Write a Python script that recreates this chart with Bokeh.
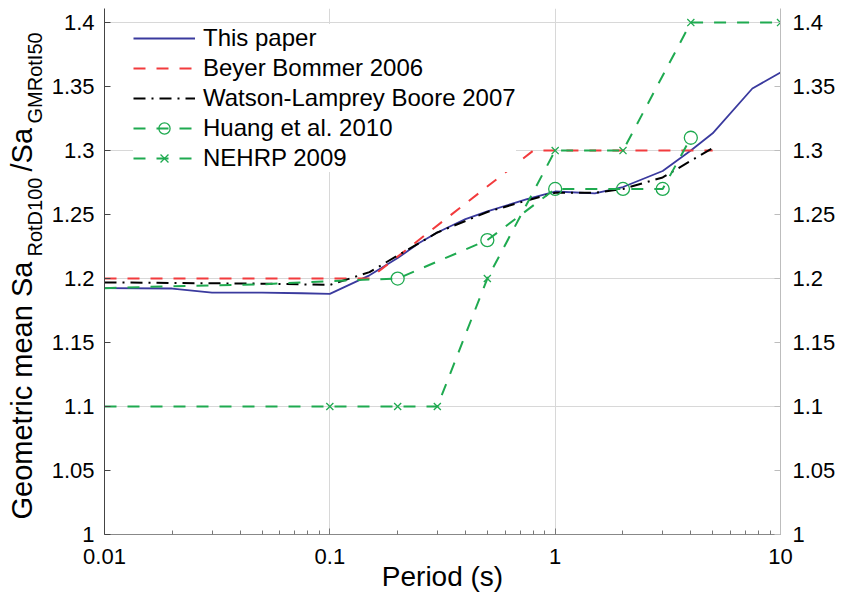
import math
from bokeh.plotting import figure
from bokeh.layouts import row
from bokeh.models import (Range1d, LinearAxis, FixedTicker, CustomJSTickFormatter,
                          Legend, LegendItem)
from bokeh.core.properties import value
from bokeh.embed import file_html
from bokeh.resources import INLINE

# ---------------- data ----------------
this_period = [0.01, 0.02, 0.03, 0.05, 0.075, 0.1, 0.15, 0.2, 0.25, 0.3, 0.4, 0.5,
               0.75, 1.0, 1.5, 2.0, 3.0, 4.0, 5.0, 7.5, 10.0]
this_ratio = [1.1925, 1.1922, 1.189, 1.189, 1.1885, 1.188, 1.2025, 1.216, 1.228, 1.236,
              1.2465, 1.2525, 1.262, 1.268, 1.2665, 1.2715, 1.284, 1.300, 1.3135,
              1.3485, 1.361]

bb_period = [0.01, 0.15, 0.8, 5.0]
bb_ratio = [1.2, 1.2, 1.3, 1.3]

wlb_period = [0.01, 0.02, 0.05, 0.1, 0.15, 0.2, 0.3, 0.5, 0.75, 1.0, 1.5, 2.0, 3.0, 4.0, 5.0]
wlb_ratio = [1.197, 1.1965, 1.196, 1.195, 1.205, 1.218, 1.236, 1.252, 1.261, 1.267,
             1.267, 1.270, 1.279, 1.292, 1.302]

huang_period = [0.01, 0.02, 0.05, 0.1, 0.2, 0.5, 1.0, 2.0, 3.0, 4.0]
huang_ratio = [1.1925, 1.194, 1.1955, 1.198, 1.2, 1.23, 1.27, 1.27, 1.27, 1.31]
huang_marker_period = [0.2, 0.5, 1.0, 2.0, 3.0, 4.0]
huang_marker_ratio = [1.2, 1.23, 1.27, 1.27, 1.27, 1.31]

nehrp_period = [0.01, 0.1, 0.2, 0.3, 0.5, 1.0, 2.0, 4.0, 10.0]
nehrp_ratio = [1.1, 1.1, 1.1, 1.1, 1.2, 1.3, 1.3, 1.4, 1.4]
nehrp_marker_period = [0.1, 0.2, 0.3, 0.5, 1.0, 2.0, 4.0, 10.0]
nehrp_marker_ratio = [1.1, 1.1, 1.1, 1.2, 1.3, 1.3, 1.4, 1.4]

series_names = ["This paper", "Beyer Bommer 2006", "Watson-Lamprey Boore 2007",
                "Huang et al. 2010", "NEHRP 2009"]

x_tick_values = [0.01, 0.1, 1.0, 10.0]
x_tick_labels = ["0.01", "0.1", "1", "10"]
y_tick_values = [1.0, 1.05, 1.1, 1.15, 1.2, 1.25, 1.3, 1.35, 1.4]
y_tick_labels = ["1", "1.05", "1.1", "1.15", "1.2", "1.25", "1.3", "1.35", "1.4"]
y_grid_values = [1.0, 1.1, 1.2, 1.3, 1.4]

x_label = "Period (s)"
y_label_main = ["Geometric mean Sa", "/Sa"]
y_label_sub = ["RotD100", "GMRotI50"]

# ---------------- styling ----------------
FONT = "Liberation Sans"
BLUE = "#3a3a9e"
RED = "#f23b3d"
BLACK = "#000000"
GREEN = "#1faa50"

W, H = 842, 599
LAB_W = 46                      # strip at the left that holds the y title
FL, FR, FT, FB = 104, 780, 8, 534  # frame edges in canvas px

# ---------- strip with the (sub-scripted) y-axis title ----------
# its frame is aligned by the row layout with the main frame (FT..FB), so the
# y range is chosen to make one unit equal one canvas pixel, counted from the bottom
lab = figure(width=LAB_W, height=H, x_range=Range1d(0, LAB_W),
             y_range=Range1d(H - FB, H - FT),
             x_axis_location=None, y_axis_location=None,
             output_backend="svg", toolbar_location=None,
             min_border_left=0, min_border_right=0,
             min_border_top=FT, min_border_bottom=H - FB)
lab.grid.visible = False
lab.outline_line_color = None
lab.background_fill_color = "white"
lab.border_fill_color = "white"
# x: text position across the strip, y: start of each piece (canvas px from top)
lab.text(x=[21, 21], y=[H - 519, H - 171], text=y_label_main, angle=math.pi / 2,
         text_align="left", text_baseline="alphabetic", text_font=value(FONT),
         text_font_size=value("29px"), text_color="black")
lab.text(x=[34, 34], y=[H - 256, H - 123], text=y_label_sub, angle=math.pi / 2,
         text_align="left", text_baseline="alphabetic", text_font=value(FONT),
         text_font_size=value("20px"), text_color="black")

# ---------------- main plot ----------------
p = figure(width=W - LAB_W, height=H, x_axis_type="log",
           x_range=Range1d(0.01, 10), y_range=Range1d(1.0, 1.411),
           output_backend="svg", toolbar_location=None,
           min_border_left=FL - LAB_W, min_border_right=W - FR,
           min_border_top=FT, min_border_bottom=H - FB)
p.outline_line_color = None
p.background_fill_color = "white"
p.border_fill_color = "white"

fmt_code = """
for (let i = 0; i < vals.length; i++) {
  if (Math.abs(vals[i] - tick) < 1e-9) { return labels[i]; }
}
return "";
"""
x_fmt = CustomJSTickFormatter(args=dict(vals=x_tick_values, labels=x_tick_labels), code=fmt_code)
y_fmt = CustomJSTickFormatter(args=dict(vals=y_tick_values, labels=y_tick_labels), code=fmt_code)

minor_x = [k * 10.0 ** e for e in (-2, -1, 0) for k in range(2, 10)]
x_ticker = FixedTicker(ticks=x_tick_values, minor_ticks=minor_x)

# grids
p.xgrid.ticker = FixedTicker(ticks=x_tick_values)
p.ygrid.ticker = FixedTicker(ticks=y_grid_values)
for g in (p.xgrid[0], p.ygrid[0]):
    g.grid_line_color = "#d8d8d8"
    g.grid_line_width = 1

# bottom axis
xa = p.xaxis[0]
xa.ticker = x_ticker
xa.formatter = x_fmt
xa.axis_line_color = "#888888"
xa.major_tick_line_color = "#777777"
xa.minor_tick_line_color = "#777777"
xa.major_tick_in = 6
xa.major_tick_out = 0
xa.minor_tick_in = 4
xa.minor_tick_out = 0
xa.major_label_standoff = 14
xa.major_label_text_font = FONT
xa.major_label_text_font_size = "22px"
xa.major_label_text_color = "black"
xa.axis_label = x_label
xa.axis_label_text_font = FONT
xa.axis_label_text_font_size = "28px"
xa.axis_label_text_font_style = "normal"
xa.axis_label_text_color = "black"
xa.axis_label_standoff = -6

# left axis
ya = p.yaxis[0]
ya.ticker = FixedTicker(ticks=y_tick_values, minor_ticks=[])
ya.formatter = y_fmt
ya.axis_line_color = "#444444"
ya.major_tick_line_color = "#444444"
ya.major_tick_in = 6
ya.major_tick_out = 0
ya.minor_tick_line_color = None
ya.major_label_standoff = 10
ya.major_label_text_font = FONT
ya.major_label_text_font_size = "22px"
ya.major_label_text_color = "black"

# right axis
ra = LinearAxis(ticker=FixedTicker(ticks=y_tick_values, minor_ticks=[]), formatter=y_fmt)
ra.axis_line_color = "#bdbdbd"
ra.major_tick_line_color = "#bdbdbd"
ra.major_tick_in = 6
ra.major_tick_out = 0
ra.minor_tick_line_color = None
ra.major_label_standoff = 12
ra.major_label_text_font = FONT
ra.major_label_text_font_size = "22px"
ra.major_label_text_color = "black"
p.add_layout(ra, "right")

# ---------------- series ----------------
r_this = p.line(this_period, this_ratio, line_color=BLUE, line_width=1.8)
r_bb = p.line(bb_period, bb_ratio, line_color=RED, line_width=2, line_dash="12 11")
r_wlb = p.line(wlb_period, wlb_ratio, line_color=BLACK, line_width=2, line_dash="12 6 2 6")
r_hu = p.line(huang_period, huang_ratio, line_color=GREEN, line_width=2, line_dash="12 11")
r_hu_m = p.scatter(huang_marker_period, huang_marker_ratio, marker="circle", size=13,
                   line_color=GREEN, line_width=1.3, fill_color=None)
r_ne = p.line(nehrp_period, nehrp_ratio, line_color=GREEN, line_width=2, line_dash="12 11")
r_ne_m = p.scatter(nehrp_marker_period, nehrp_marker_ratio, marker="x", size=10,
                   line_color=GREEN, line_width=1.3)

legend = Legend(items=[
    LegendItem(label=series_names[0], renderers=[r_this]),
    LegendItem(label=series_names[1], renderers=[r_bb]),
    LegendItem(label=series_names[2], renderers=[r_wlb]),
    LegendItem(label=series_names[3], renderers=[r_hu, r_hu_m]),
    LegendItem(label=series_names[4], renderers=[r_ne, r_ne_m]),
], location=(29, 362))
legend.label_text_font = FONT
legend.label_text_font_size = "24px"
legend.label_text_color = "black"
legend.glyph_width = 62
legend.glyph_height = 28
legend.label_height = 28
legend.label_standoff = 8
legend.spacing = 2
legend.padding = 3
legend.margin = 0
legend.border_line_color = None
legend.background_fill_color = "white"
legend.background_fill_alpha = 1.0
p.add_layout(legend)

layout = row(lab, p, spacing=0)
open("out.html", "w").write(file_html(layout, INLINE))
